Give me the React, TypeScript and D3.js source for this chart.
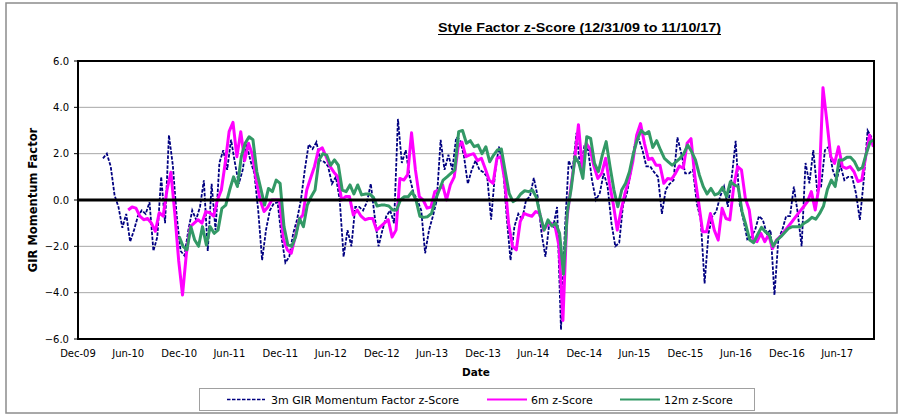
import React from 'react';
import * as d3 from 'd3';

// 14-day samples
const STEP_DAYS = 14;
const m3Start = new Date(2010, 2, 31);
const m6Start = new Date(2010, 5, 30);
const m12Start = new Date(2010, 11, 31);

const m3Values = [
  1.8, 2.0, 1.45, 0.2, -0.3, -1.2, -0.6, -1.8, -1.3, -0.7, -0.45, -0.6, -0.1, -2.2, -1.6, 1.0, -1.0, 2.8, 1.5, -0.7,
  -2.2, -2.4, -1.3, -0.45, -0.85, -0.3, 0.85, -2.2, 0.7, -1.3, 1.6, 2.15, 1.3, 2.6, 1.6, 0.7, 1.3, 2.4, 1.7, 1.15,
  -0.45, -2.6, -1.3, -0.45, -0.15, -0.1, -1.6, -2.7, -2.45, -1.45, -0.85, 0, 1.3, 2.4, 2.2, 2.5, 1.7, 1.65, 1.45, 0.7,
  1.0, 0, -2.45, -1.3, -2.0, -0.3, -0.3, -0.45, -0.1, 0.7, -0.7, -2.0, -1.3, -0.7, -0.45, -1.0, 3.5, 1.6, 2.15, 1.0,
  0.3, 0, -0.45, -2.3, -1.3, -0.7, 0, 2.6, 1.3, 1.95, 1.3, 2.7, 2.6, 1.9, 0.7, 1.3, 1.7, 1.3, 1.2, 1.0,
  -0.85, 1.15, 2.3, 1.6, -0.7, -2.6, -1.15, -0.6, -0.85, 0, 0.15, 0.95, 0.15, -1.45, -2.45, -1.0, -1.15, -0.3, -5.6, -1.3,
  1.7, 1.3, 2.9, 1.3, 2.3, 2.15, 0.85, 0, 0.3, 1.15, 0.6, -1.0, -2.0, -1.85, -0.2, 0.3, 1.2, 2.4, 2.65, 2.15,
  1.45, 1.45, 1.2, 1.0, -0.6, 0.45, 0.7, 0.85, 2.7, 2.0, 1.15, 1.15, 1.3, -0.15, -0.85, -3.6, -1.45, -0.7, -0.5, 0.15,
  0.58, -0.3, 1.0, 2.55, -0.15, -0.85, -1.7, -1.6, -1.3, -0.7, -0.85, -1.45, -1.3, -4.1, -1.7, -1.3, -0.7, -0.7, 0.58, -0.58,
  -2.0, 1.6, 0.72, 2.15, 0.43, 0.58, 2.15, 2.3, 1.3, 0.86, 1.5, 0.86, 1.0, 1.0, 0.29, -0.86, 0.86, 3.0, 2.7,
];

const m6Values = [
  -0.43, -0.3, -0.35, -0.7, -0.85, -0.8, -1.0, -1.35, -0.55, -0.7, 0.43, 1.2, -0.55, -2.6, -4.1, -2.3, -1.15, -1.0, -0.85, -1.0,
  -0.5, -0.55, -0.7, 0, 0.43, 1.6, 2.95, 3.35, 1.87, 2.95, 1.7, 2.45, 1.95, 0.85, 0, -0.5, -0.3, 0, 0, 0,
  -1.7, -2.15, -2.3, -1.6, -0.85, -0.65, 0.43, 0.95, 1.45, 2.15, 2.25, 1.87, 1.45, 1.2, 1.0, 0, 0.15, 0.15, -0.65, -0.43,
  -0.7, -0.85, -0.8, -0.8, -1.3, -1.15, -1.0, -0.85, -1.6, -1.3, 0.93, 0.86, 1.1, 2.9, 1.3, 0.15, 0, -0.35, -0.3, 0.36,
  0.43, 0.65, 0, 0.65, 1.0, 2.3, 2.5, 1.87, 1.95, 2.0, 1.7, 1.8, 1.35, 0.86, 0.72, 1.8, 1.87, 0.86, -1.0, -2.0,
  -2.15, -0.93, -0.58, -0.65, -0.7, -0.5, -0.58, -1.3, -1.08, -1.0, -1.15, -2.0, -5.2, -0.85, 0.5, 1.7, 3.25, 1.37, 2.45, 2.2,
  1.45, 0.93, 1.15, 1.8, 0.72, -0.2, -1.3, -0.43, 0.3, 0.86, 1.65, 2.8, 3.3, 2.45, 1.75, 1.8, 1.5, 1.5, 0.72, 0.93,
  0.9, 1.15, 1.47, 1.37, 2.45, 2.65, 1.0, -0.15, -1.37, -1.37, -0.58, -1.3, -1.73, -0.36, -0.8, -0.86, 0.58, 1.44, 1.3, 0.07,
  -0.43, -1.73, -1.8, -1.44, -1.8, -1.5, -2.1, -1.73, -1.58, -1.37, -1.15, -0.94, -0.72, -0.5, -0.29, -0.07, 0.36, -0.43, 0.6, 4.85,
  3.4, 1.87, 1.58, 2.3, 1.44, 1.37, 1.44, 1.22, 0.8, 0.86, 1.87, 2.8, 2.3,
];

const m12Values = [
  -1.58, -2.0, -2.15, -1.15, -1.73, -2.0, -1.15, -1.94, -1.15, -1.44, -1.3, -0.36, -0.22, 0.43, 1.0, 0.58, 1.87, 2.45, 2.73, 2.6,
  1.22, 0.5, -0.22, 0.5, 0.36, 0.86, 0.72, -1.15, -1.94, -2.0, -1.58, -0.8, -1.15, -0.22, 0.14, 0.43, 1.73, 2.0, 1.94, 1.5,
  1.73, 1.5, 0.43, 0.36, 0.65, 0.26, 0.65, 0.22, 0.26, 0.26, 0.12, -0.26, -0.22, -0.22, -0.26, -0.43, -0.43, 0, 0.14, 0.14,
  0.36, 0, -0.7, -0.75, -0.72, -0.58, 0, 0.43, 0.86, 1.0, 1.15, 1.3, 2.95, 3.0, 2.45, 2.56, 2.3, 2.37, 2.0, 2.3,
  1.65, 1.94, 2.16, 2.2, 1.22, 0.29, -0.07, 0.03, 0.26, 0.4, 0.36, 0.43, 0.12, -0.65, -1.3, -0.86, -1.12, -1.0, -1.44, -3.2,
  -0.5, 0.5, 1.87, 1.58, 0.93, 2.73, 2.66, 1.58, 1.22, 1.94, 2.52, 1.44, 0.43, -0.29, 0.43, 0.72, 1.22, 2.0, 2.6, 3.0,
  2.85, 2.95, 2.27, 2.56, 2.16, 1.8, 1.65, 1.5, 1.65, 1.8, 2.0, 2.37, 2.09, 1.73, 1.08, 0.58, 0.26, 0.5, 0.22, 0.29,
  0.55, 0.14, 0.79, 0.65, 0.58, -0.5, -1.08, -1.73, -1.84, -1.5, -1.18, -1.37, -1.5, -2.0, -1.73, -1.58, -1.4, -1.22, -1.15, -1.15,
  -1.15, -1.0, -0.9, -0.75, -0.83, -0.58, -0.26, 0.46, 0.86, 0.58, 1.73, 1.73, 1.84, 1.84, 1.65, 1.3, 1.4, 2.0, 2.5, 2.6,
];

const yTicks = [-6, -4, -2, 0, 2, 4, 6];
const xTickDates = [
  '2009-12-31', '2010-06-30', '2010-12-31', '2011-06-30', '2011-12-31', '2012-06-30', '2012-12-31', '2013-06-30',
  '2013-12-31', '2014-06-30', '2014-12-31', '2015-06-30', '2015-12-31', '2016-06-30', '2016-12-31', '2017-06-30',
];

const seriesNames = ['3m GIR Momentum Factor z-Score', '6m z-Score', '12m z-Score'];
const title = 'Style Factor z-Score (12/31/09 to 11/10/17)';

const parse = d3.timeParse('%Y-%m-%d');
const toPoints = (start: Date, values: number[]) =>
  values.map((v, i) => ({ date: d3.timeDay.offset(start, i * STEP_DAYS), value: v }));

const W = 903;
const H = 416;
const plot = { left: 78, right: 874, top: 61, bottom: 339 };
const font = "'DejaVu Sans', Verdana, sans-serif";

export default function App() {
  const x = d3
    .scaleTime()
    .domain([parse('2009-12-31') as Date, parse('2017-11-10') as Date])
    .range([plot.left, plot.right]);
  const y = d3.scaleLinear().domain([-6, 6]).range([plot.bottom, plot.top]);

  const line = d3
    .line<{ date: Date; value: number }>()
    .x((d) => x(d.date))
    .y((d) => y(d.value));

  const s3 = toPoints(m3Start, m3Values);
  const s6 = toPoints(m6Start, m6Values);
  const s12 = toPoints(m12Start, m12Values);
  const fmt = d3.timeFormat('%b-%y');

  return (
    <svg width={W} height={H} style={{ position: 'absolute', left: 0, top: 0, background: '#fff' }}>
      <rect x={6} y={3} width={891} height={410} fill="#fff" stroke="#8c8c8c" strokeWidth={1.5} />

      <text
        x={438}
        y={32}
        fontFamily="'Liberation Sans Narrow', 'Arial Narrow', sans-serif"
        fontWeight="bold"
        fontSize={13}
        textLength={283}
        lengthAdjust="spacingAndGlyphs"
      >
        {title}
      </text>
      <line x1={438} x2={721} y1={34.5} y2={34.5} stroke="#000" strokeWidth={1} />

      {yTicks.filter((t) => t !== 0 && Math.abs(t) !== 6).map((t) => (
        <line key={t} x1={plot.left} x2={plot.right} y1={y(t)} y2={y(t)} stroke="#a8a8a8" strokeWidth={1} />
      ))}

      {yTicks.map((t) => (
        <g key={'yt' + t}>
          <line x1={plot.left - 4} x2={plot.left} y1={y(t)} y2={y(t)} stroke="#000" />
          <text x={plot.left - 9} y={y(t) + 3.5} textAnchor="end" fontFamily={font} fontSize={10}>
            {d3.format('.1f')(t)}
          </text>
        </g>
      ))}

      {xTickDates.map((s) => {
        const d = parse(s) as Date;
        return (
          <text key={s} x={x(d)} y={357} textAnchor="middle" fontFamily={font} fontSize={10}>
            {fmt(d)}
          </text>
        );
      })}

      <path d={line(s3) || ''} fill="none" stroke="#000080" strokeWidth={1.8} strokeDasharray="3.5,1.5" />
      <path d={line(s6) || ''} fill="none" stroke="#ff00ff" strokeWidth={3} strokeLinejoin="round" />
      <path d={line(s12) || ''} fill="none" stroke="#339966" strokeWidth={3} strokeLinejoin="round" />

      <line x1={plot.left} x2={plot.right} y1={y(0)} y2={y(0)} stroke="#000" strokeWidth={3} />
      <rect
        x={plot.left}
        y={plot.top}
        width={plot.right - plot.left}
        height={plot.bottom - plot.top}
        fill="none"
        stroke="#000"
        strokeWidth={2}
      />

      <text
        transform={`translate(37,${(plot.top + plot.bottom) / 2}) rotate(-90)`}
        textAnchor="middle"
        fontFamily={font}
        fontWeight="bold"
        fontSize={11.5}
      >
        GIR Momentum Factor
      </text>
      <text x={(plot.left + plot.right) / 2} y={376} textAnchor="middle" fontFamily={font} fontWeight="bold" fontSize={10.5}>
        Date
      </text>

      <rect x={199.5} y={388.5} width={555} height={22} fill="#fff" stroke="#a0a0a0" strokeWidth={1} />
      <line x1={227} x2={265} y1={399.5} y2={399.5} stroke="#000080" strokeWidth={1.6} strokeDasharray="3.5,1.5" />
      <text x={271} y={403.5} fontFamily={font} fontSize={11}>{seriesNames[0]}</text>
      <line x1={487} x2={527} y1={399.5} y2={399.5} stroke="#ff00ff" strokeWidth={2} />
      <text x={531} y={403.5} fontFamily={font} fontSize={11}>{seriesNames[1]}</text>
      <line x1={620} x2={660} y1={399.5} y2={399.5} stroke="#339966" strokeWidth={2} />
      <text x={664} y={403.5} fontFamily={font} fontSize={11}>{seriesNames[2]}</text>
    </svg>
  );
}
